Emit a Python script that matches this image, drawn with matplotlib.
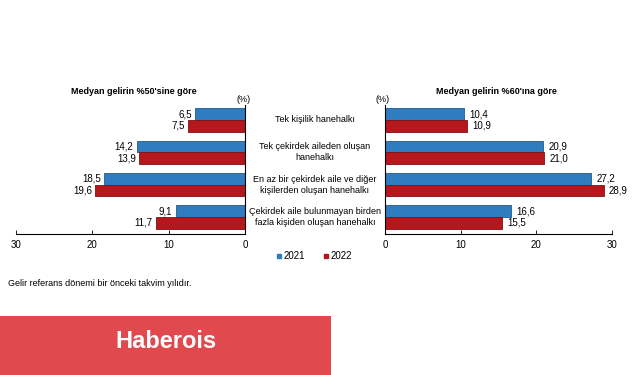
import matplotlib
matplotlib.use("Agg")
import matplotlib.pyplot as plt
from matplotlib.lines import Line2D
from matplotlib.patches import Rectangle
from matplotlib.transforms import blended_transform_factory
import numpy as np

plt.rcParams['font.family'] = ['Liberation Sans', 'DejaVu Sans']

# data
categories = ['Tek kişilik hanehalkı',
              'Tek çekirdek aileden oluşan\nhanehalkı',
              'En az bir çekirdek aile ve diğer\nkişilerden oluşan hanehalkı',
              'Çekirdek aile bulunmayan birden\nfazla kişiden oluşan hanehalkı']
med50_2021 = [6.5, 14.2, 18.5, 9.1]
med50_2022 = [7.5, 13.9, 19.6, 11.7]
med60_2021 = [10.4, 20.9, 27.2, 16.6]
med60_2022 = [10.9, 21.0, 28.9, 15.5]
years = ['2021', '2022']
ticks = [0, 10, 20, 30]

c21 = '#2f7cc0'
c22 = '#b5171d'
e21 = '#1f5a8e'
e22 = '#7e1014'

W, H = 633, 375
fig = plt.figure(figsize=(W / 100, H / 100), dpi=100)

axL = fig.add_axes([16 / W, 1 - 234 / H, (245 - 16) / W, (234 - 105) / H])
axR = fig.add_axes([385 / W, 1 - 234 / H, (612 - 385) / W, (234 - 105) / H])

y = np.arange(len(categories))
h = 0.36


def fmt(v):
    return ('%.1f' % v).replace('.', ',')


for ax, d21, d22, side in [(axL, med50_2021, med50_2022, 'left'),
                           (axR, med60_2021, med60_2022, 'right')]:
    ax.barh(y - h / 2, d21, height=h, color=c21, edgecolor=e21, linewidth=0.6)
    ax.barh(y + h / 2, d22, height=h, color=c22, edgecolor=e22, linewidth=0.6)
    ax.set_ylim(3.52, -0.46)
    ax.set_yticks([])
    ax.set_xticks(ticks)
    ax.tick_params(axis='x', labelsize=7, direction='in', length=3, width=0.6, pad=4)
    for s in ['top']:
        ax.spines[s].set_visible(False)
    ax.spines['bottom'].set_linewidth(0.8)
    for yi, v in zip(y - h / 2, d21):
        if side == 'left':
            ax.text(v + 0.4, yi, fmt(v), ha='right', va='center', fontsize=7)
        else:
            ax.text(v + 0.7, yi, fmt(v), ha='left', va='center', fontsize=7)
    for yi, v in zip(y + h / 2, d22):
        if side == 'left':
            ax.text(v + 0.4, yi, fmt(v), ha='right', va='center', fontsize=7)
        else:
            ax.text(v + 0.7, yi, fmt(v), ha='left', va='center', fontsize=7)

axL.set_xlim(30, 0)
axL.spines['left'].set_visible(False)
axL.spines['right'].set_linewidth(0.8)
axR.set_xlim(0, 30)
axR.spines['right'].set_visible(False)
axR.spines['left'].set_linewidth(0.8)

# titles and units
fig.text(134 / W, 1 - 91 / H, "Medyan gelirin %50'sine göre", ha='center', va='center',
         fontsize=6.5, fontweight='bold')
fig.text(496 / W, 1 - 92 / H, "Medyan gelirin %60'ına göre", ha='center', va='center',
         fontsize=6.5, fontweight='bold')
fig.text(244 / W, 1 - 100 / H, '(%)', ha='center', va='center', fontsize=6.5)
fig.text(383 / W, 1 - 100 / H, '(%)', ha='center', va='center', fontsize=6.5)

# category labels between the two panels
tr = blended_transform_factory(fig.transFigure, axL.transData)
for yi, cat in zip(y, categories):
    fig.text(315 / W, yi, cat, transform=tr, ha='center', va='center',
             fontsize=6.5, linespacing=1.25)

# legend
handles = [Line2D([0], [0], color='w', marker='s', markerfacecolor=c, markeredgecolor=c,
                  markersize=3.5, label=lab) for c, lab in zip([c21, c22], years)]
fig.legend(handles=handles, loc='center', bbox_to_anchor=(314 / W, 1 - 256 / H), ncol=2,
           frameon=False, fontsize=7, handlelength=0.6, handletextpad=0.2,
           columnspacing=1.8)

# footnote
fig.text(8 / W, 1 - 283 / H, 'Gelir referans dönemi bir önceki takvim yılıdır.',
         ha='left', va='center', fontsize=6.5)

# brand box
fig.patches.append(Rectangle((0, 0), 331 / W, (375 - 316) / H, transform=fig.transFigure,
                             facecolor='#e04a4e', edgecolor='none', zorder=0))
fig.text(166 / W, 1 - 341 / H, 'Haberois', ha='center', va='center', fontsize=17,
         fontweight='bold', color='white')

fig.savefig('out.png', dpi=100)
